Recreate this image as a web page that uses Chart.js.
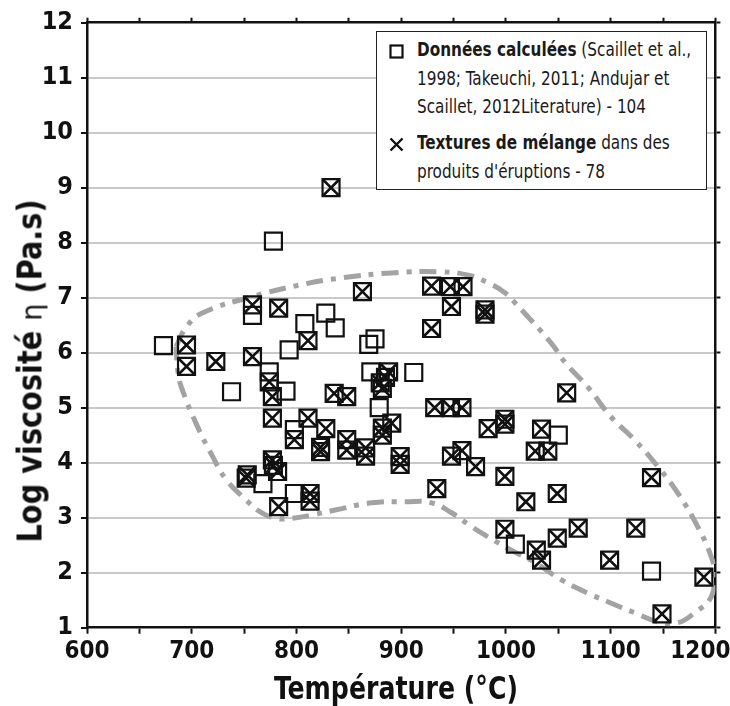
<!DOCTYPE html>
<html>
<head>
<meta charset="utf-8">
<script src="https://cdn.jsdelivr.net/npm/chart.js@4.4.1/dist/chart.umd.min.js"></script>
<style>
  html, body { margin: 0; padding: 0; background: #fff; }
  #wrap { position: relative; width: 730px; height: 706px; overflow: hidden; }
  canvas { position: absolute; left: 0; top: 0; }
  .cf { font-family: 'Liberation Sans Narrow', 'DejaVu Sans Condensed', 'Roboto Condensed', sans-serif; }
  #legend { position: absolute; left: 376px; top: 31px; width: 329px; height: 157px;
            border: 1.5px solid #222; background: #fff; color: #1a1a1a; font-size: 19.5px; }
  #legend .row { position: absolute; left: 40px; line-height: 28.5px; white-space: nowrap;
                 transform: scaleX(0.87); transform-origin: 0 0; }
  #legend svg { position: absolute; }
  #ytitle { position: absolute; left: 30px; top: 371px; transform: translate(-50%, -50%) rotate(-90deg) scaleX(0.97);
            white-space: nowrap; font-size: 33px; font-weight: bold; color: #111; }
  #ytitle .n { font-weight: normal; font-family: 'DejaVu Sans', sans-serif; font-size: 28px; }
  #xtitle { position: absolute; left: 396px; top: 688px; transform: translate(-50%, -50%) scaleX(0.89);
            white-space: nowrap; font-size: 31.5px; font-weight: bold; color: #111; }
</style>
</head>
<body>
<div id="wrap">
  <canvas id="c" width="730" height="706"></canvas>
  <div id="ytitle" class="cf">Log viscosité <span class="n">η</span> (Pa.s)</div>
  <div id="xtitle" class="cf">Température (°C)</div>
  <div id="legend" class="cf">
    <svg style="left:12px;top:12px" width="15" height="15"><rect x="1.5" y="1.5" width="12" height="12" fill="none" stroke="#111" stroke-width="2.2"/></svg>
    <div class="row" style="top:4px"><b>Données calculées</b> (Scaillet et al.,<br>1998; Takeuchi, 2011; Andujar et<br>Scaillet, 2012Literature) - 104</div>
    <svg style="left:12px;top:105px" width="15" height="15"><line x1="1.5" y1="1.5" x2="13.5" y2="13.5" stroke="#111" stroke-width="2.4"/><line x1="13.5" y1="1.5" x2="1.5" y2="13.5" stroke="#111" stroke-width="2.4"/></svg>
    <div class="row" style="top:97px"><b>Textures de mélange</b> dans des<br>produits d'éruptions - 78</div>
  </div>
</div>
<script>
// ---- data ----
// open squares only (calculated data without mixing texture)
const sqT = [673, 778, 758, 808, 828, 837, 793, 869, 875, 774, 738, 790, 798, 768, 798, 871, 912, 879, 1050, 1009, 1139];
const sqV = [6.13, 8.03, 6.68, 6.53, 6.72, 6.45, 6.05, 6.15, 6.25, 5.65, 5.29, 5.30, 4.60, 3.62, 3.44, 5.65, 5.64, 5.00, 4.50, 2.52, 2.03];
// squares with a mixing-texture cross
const mixT = [833, 758, 783, 811, 695, 758, 723, 695, 774, 777, 836, 848, 777, 811, 828, 798, 823, 823, 848, 848,
              777, 782, 753, 752, 813, 813, 783, 863, 929, 947, 959, 948, 980, 980, 929, 888, 880, 882, 932, 947,
              958, 891, 882, 882, 866, 866, 899, 899, 948, 958, 971, 934, 983, 999, 999, 999, 999, 1058, 1034, 1028,
              1040, 1139, 1049, 1019, 1069, 1124, 1049, 1029, 1034, 1099, 1189, 1149, 778, 885];
const mixV = [9.00, 6.87, 6.81, 6.22, 6.14, 5.93, 5.84, 5.75, 5.47, 5.20, 5.26, 5.20, 4.81, 4.81, 4.62, 4.42, 4.28, 4.20, 4.42, 4.23,
              4.05, 3.84, 3.78, 3.72, 3.44, 3.30, 3.20, 7.11, 7.21, 7.20, 7.20, 6.84, 6.78, 6.70, 6.44, 5.65, 5.45, 5.35, 5.00, 5.00,
              5.00, 4.72, 4.63, 4.50, 4.27, 4.12, 4.11, 3.97, 4.12, 4.22, 3.93, 3.53, 4.62, 4.79, 4.70, 3.75, 2.79, 5.27, 4.61, 4.21,
              4.21, 3.73, 3.44, 3.29, 2.81, 2.81, 2.63, 2.41, 2.23, 2.23, 1.92, 1.25, 3.95, 5.55];
// hand-drawn dash-dot envelope
const outlineT = [685, 695, 710, 758, 803, 843, 891, 939, 964, 983, 999, 1009, 1043, 1057, 1078, 1100, 1123, 1145, 1164, 1183,
                  1196, 1199, 1196, 1180, 1164, 1145, 1123, 1100, 1078, 1053, 1028, 1005, 983, 967, 948, 929, 904, 872, 837, 815,
                  796, 780, 765, 752, 733, 720, 704, 690, 687, 685];
const outlineV = [6.11, 6.47, 6.72, 7.02, 7.23, 7.36, 7.45, 7.47, 7.41, 7.27, 7.09, 6.90, 6.18, 5.81, 5.38, 4.84, 4.41, 3.93, 3.45, 2.84,
                  2.29, 1.99, 1.56, 1.27, 1.09, 1.11, 1.27, 1.45, 1.63, 1.87, 2.18, 2.41, 2.65, 2.84, 3.09, 3.27, 3.29, 3.27, 3.14, 3.05,
                  2.99, 2.99, 3.11, 3.32, 3.69, 4.11, 4.72, 5.38, 5.63, 6.11];
const xTicks = [600, 700, 800, 900, 1000, 1100, 1200];
const yTicks = [1, 2, 3, 4, 5, 6, 7, 8, 9, 10, 11, 12];

const toPts = (xs, ys) => xs.map((x, i) => ({ x: x, y: ys[i] }));
const squarePts = toPts(sqT, sqV).concat(toPts(mixT, mixV));
const crossPts = toPts(mixT, mixV);
const outlinePts = toPts(outlineT, outlineV);

const FONT = "'Liberation Sans Narrow', 'DejaVu Sans Condensed', 'Roboto Condensed', sans-serif";
const INK = '#111';

const fix = (w, h) => (s) => {
  if (w !== null) s.width = w;
  if (h !== null) s.height = h;
  s.paddingLeft = 0; s.paddingRight = 0; s.paddingTop = 0; s.paddingBottom = 0;
};
const every50 = (s) => { s.ticks = []; for (let v = 600; v <= 1200; v += 50) s.ticks.push({ value: v }); };

new Chart(document.getElementById('c'), {
  type: 'scatter',
  data: {
    datasets: [
      { label: 'Textures de mélange', data: crossPts, pointStyle: 'crossRot', pointRadius: 12,
        borderColor: INK, borderWidth: 2.6, backgroundColor: INK, pointHoverRadius: 12 },
      { label: 'Données calculées', data: squarePts, pointStyle: 'rect', pointRadius: 12,
        borderColor: INK, borderWidth: 2.2, backgroundColor: 'rgba(255,255,255,0)', pointHoverRadius: 12 },
      { label: 'enveloppe', data: outlinePts, showLine: true, pointRadius: 0, pointHoverRadius: 0,
        borderColor: '#a3a3a3', borderWidth: 5, borderDash: [17, 8, 5, 8], tension: 0.45, fill: false }
    ]
  },
  options: {
    responsive: false,
    animation: false,
    devicePixelRatio: 1,
    layout: { padding: 0 },
    plugins: { legend: { display: false }, tooltip: { enabled: false } },
    scales: {
      x: {
        type: 'linear', position: 'bottom', min: 600, max: 1200,
        afterFit: fix(null, 78.3),
        afterBuildTicks: every50,
        ticks: { autoSkip: false, maxRotation: 0, minRotation: 0, padding: 4, color: INK,
                 font: { family: FONT, size: 24, weight: 'bold' },
                 callback: (v) => v === 1200 ? '1200    ' : (xTicks.includes(v) ? String(v) : '') },
        grid: { drawOnChartArea: false, drawTicks: true, tickLength: 6, tickColor: INK, tickWidth: 2 },
        border: { color: INK, width: 2.5 }
      },
      x2: {
        type: 'linear', position: 'top', min: 600, max: 1200,
        afterFit: fix(null, 22.7),
        afterBuildTicks: every50,
        ticks: { display: false },
        grid: { drawOnChartArea: false, drawTicks: true, tickLength: 5, tickColor: INK, tickWidth: 2 },
        border: { color: INK, width: 2.5 }
      },
      y: {
        type: 'linear', position: 'left', min: 1, max: 12,
        afterFit: fix(87, null),
        afterBuildTicks: (s) => { s.ticks = yTicks.map(v => ({ value: v })); },
        ticks: { autoSkip: false, padding: 8, color: INK, font: { family: FONT, size: 25, weight: 'bold' } },
        grid: { color: (ctx) => (ctx.tick && (ctx.tick.value === 1 || ctx.tick.value === 12)) ? 'rgba(0,0,0,0)' : '#c9c9c9',
                lineWidth: 2, drawTicks: true, tickLength: 6, tickColor: INK, tickWidth: 2 },
        border: { color: INK, width: 2.5 }
      },
      y2: {
        type: 'linear', position: 'right', min: 1, max: 12,
        afterFit: fix(12, null),
        afterBuildTicks: (s) => { s.ticks = yTicks.map(v => ({ value: v })); },
        ticks: { display: false },
        grid: { drawOnChartArea: false, drawTicks: true, tickLength: 5, tickColor: INK, tickWidth: 2 },
        border: { color: INK, width: 2.5 }
      }
    }
  }
});
</script>
</body>
</html>
